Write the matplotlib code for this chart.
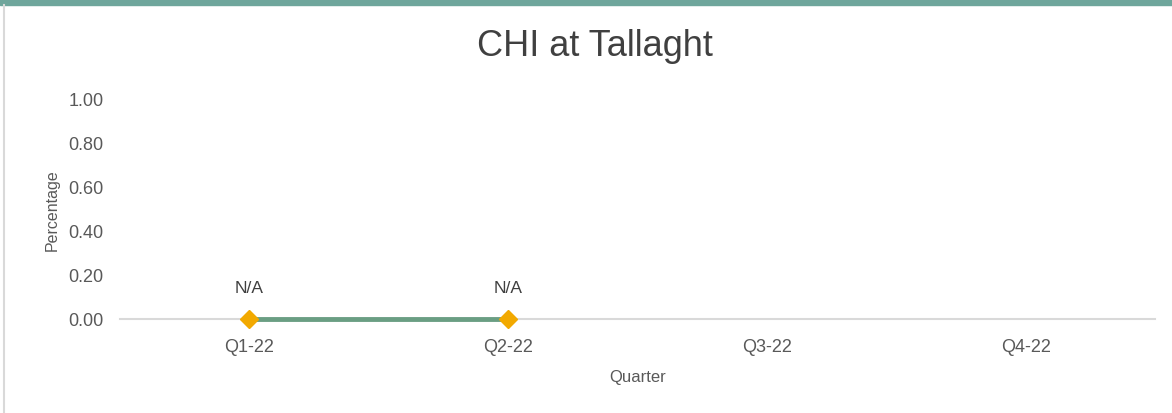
import matplotlib
matplotlib.use("Agg")
import matplotlib.pyplot as plt
import numpy as np
from matplotlib.patches import Rectangle
from matplotlib.lines import Line2D

quarters = ["Q1-22", "Q2-22", "Q3-22", "Q4-22"]
values = [0.0, 0.0, np.nan, np.nan]
point_labels = ["N/A", "N/A", "", ""]
yticks = [0.0, 0.2, 0.4, 0.6, 0.8, 1.0]

plt.rcParams['font.family'] = ['Liberation Sans', 'DejaVu Sans']
txt = "#595959"

W, H = 1172, 414
fig = plt.figure(figsize=(W/100, H/100), dpi=100)
fig.patch.set_facecolor("white")

# top teal band and left border
fig.add_artist(Rectangle((0, 1 - 6/H), 1, 6/H, transform=fig.transFigure,
                         color="#6fa69c", zorder=0))
fig.add_artist(Line2D([3.5/W, 3.5/W], [0, 1 - 6/H], transform=fig.transFigure,
                      color="#d9d9d9", lw=1.5))

ax = fig.add_axes([120/W, 1 - 320/H, (1155-120)/W, 220/H])
x = np.arange(len(quarters))
ax.plot(x, values, color="#6a9e83", lw=3.5, zorder=3, clip_on=False)
ax.plot(x, values, linestyle="none", marker="D", ms=9, color="#f2a900",
        zorder=4, clip_on=False)
for xi, v, lab in zip(x, values, point_labels):
    if lab:
        ax.annotate(lab, (xi, v), xytext=(0, 17), textcoords="offset points",
                    ha="center", va="bottom", fontsize=12.5, color="#404040")

ax.set_xlim(-0.5, len(quarters) - 0.5)
ax.set_ylim(0, 1)
ax.set_xticks(x)
ax.set_xticklabels(quarters)
ax.set_yticks(yticks)
ax.set_yticklabels([f"{t:.2f}" for t in yticks])
ax.tick_params(axis="both", length=0, labelsize=13, colors=txt)
ax.tick_params(axis="y", pad=12)
ax.tick_params(axis="x", pad=14)
for s in ["top", "right", "left"]:
    ax.spines[s].set_visible(False)
ax.spines["bottom"].set_color("#d9d9d9")
ax.spines["bottom"].set_linewidth(1.5)
ax.set_xlabel("Quarter", fontsize=12, color=txt, labelpad=10)
ax.set_ylabel("Percentage", fontsize=11.5, color=txt, labelpad=6)

fig.text(595/W, 1 - 47/H, "CHI at Tallaght", ha="center", va="center",
         fontsize=26, color="#404040")

fig.savefig("out.png", dpi=100)
